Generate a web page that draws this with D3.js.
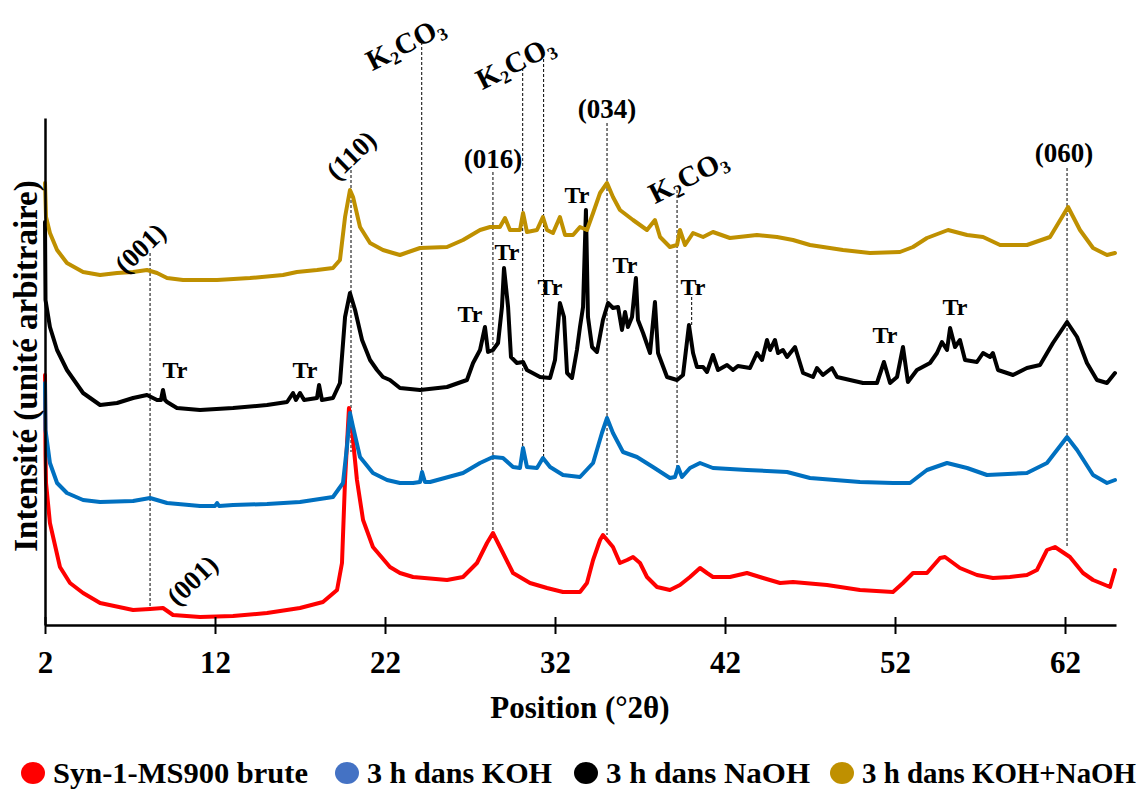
<!DOCTYPE html>
<html><head><meta charset="utf-8">
<script src="https://cdn.jsdelivr.net/npm/d3@7"></script>
<style>body{margin:0;background:#fff}</style>
</head><body>
<svg id="chart" width="1145" height="789"></svg>
<script>
// ---------- DATA (2θ in degrees, intensity in arbitrary units, curves already offset) ----------
const xTicks = [2, 12, 22, 32, 42, 52, 62];
const seriesNames = ["Syn-1-MS900 brute", "3 h dans KOH", "3 h dans NaOH", "3 h dans KOH+NaOH"];

const brute = [[2.00,250],[2.03,170],[2.06,142],[2.29,102],[2.88,58],[3.47,42],[4.24,32],[5.24,22],[7.18,15],[8.18,16],[8.94,17],[9.53,10],[11.12,8],[13.06,9],[15.06,12],[17.0,17],[18.35,23],[19.18,35],[19.47,62],[19.65,145],[19.88,217],[20.06,195],[20.35,145],[20.71,105],[21.29,78],[22.29,58],[22.88,52],[23.65,48],[25.65,45],[26.59,48],[27.41,62],[28.0,82],[28.35,92],[28.94,72],[29.53,52],[30.53,42],[31.53,37],[32.47,33],[33.47,33],[33.88,42],[34.24,65],[34.65,85],[34.82,90],[35.41,78],[35.82,62],[36.24,65],[36.59,68],[37.0,62],[37.41,48],[38.0,38],[38.76,35],[39.35,40],[39.94,48],[40.53,57],[40.94,52],[41.29,48],[42.29,48],[43.29,52],[44.24,47],[45.24,42],[46.0,43],[48.0,40],[49.94,35],[51.88,33],[52.47,42],[53.06,52],[53.88,52],[54.65,67],[54.94,68],[55.82,57],[56.82,50],[57.76,47],[58.76,48],[59.76,50],[60.35,55],[60.94,75],[61.41,78],[62.29,68],[63.06,52],[63.65,45],[64.65,38],[64.94,55]];

const koh = [[2.00,242],[2.03,195],[2.29,162],[2.71,142],[3.29,132],[4.24,125],[5.24,123],[7.18,124],[8.18,127],[9.18,122],[11.12,119],[12.0,119],[12.12,122],[12.24,119],[13.06,120],[15.06,121],[17.0,123],[18.94,128],[19.53,142],[19.76,178],[19.94,212],[20.12,198],[20.53,168],[21.29,152],[22.12,145],[22.88,142],[23.65,142],[24.06,143],[24.18,153],[24.35,143],[24.65,143],[26.59,152],[27.59,162],[28.35,168],[28.94,167],[29.53,158],[29.94,157],[30.12,177],[30.35,158],[30.94,157],[31.29,167],[31.71,158],[32.47,150],[33.47,148],[34.24,162],[34.76,192],[35.06,207],[35.41,192],[36.0,173],[36.82,168],[37.76,158],[38.76,147],[39.06,148],[39.24,158],[39.47,148],[39.94,157],[40.53,162],[41.29,157],[43.29,155],[45.65,153],[47.0,147],[49.94,143],[51.88,142],[52.88,142],[53.88,155],[55.06,162],[56.24,157],[57.41,150],[59.76,152],[60.94,162],[62.12,188],[62.71,175],[63.65,150],[64.47,142],[64.94,145]];

const naoh = [[2.00,403],[2.03,325],[2.29,298],[2.71,275],[3.29,255],[4.24,232],[5.24,220],[6.24,222],[7.18,227],[8.0,230],[8.59,225],[8.82,225],[8.94,235],[9.06,225],[9.18,223],[9.76,217],[11.12,215],[13.06,217],[15.06,220],[16.24,223],[16.59,232],[16.76,225],[17.0,232],[17.24,225],[18.0,227],[18.12,240],[18.29,225],[18.94,227],[19.35,242],[19.65,308],[19.94,332],[20.24,315],[20.65,285],[21.12,265],[21.53,255],[21.88,248],[22.29,245],[22.88,237],[24.06,235],[25.65,238],[26.82,245],[27.18,262],[27.59,275],[27.88,298],[28.06,273],[28.35,275],[28.65,282],[28.88,318],[29.0,357],[29.24,318],[29.41,268],[29.76,262],[30.12,263],[30.35,255],[31.12,248],[31.71,247],[32.0,265],[32.29,322],[32.53,308],[32.71,252],[33.0,247],[33.29,275],[33.47,298],[33.65,318],[33.82,415],[33.94,308],[34.18,278],[34.47,273],[34.82,305],[35.12,322],[35.41,317],[35.71,318],[35.94,295],[36.12,313],[36.29,298],[36.53,308],[36.76,347],[36.88,305],[37.18,292],[37.59,272],[37.88,323],[38.06,272],[38.59,248],[39.18,245],[39.53,250],[39.88,300],[40.12,272],[40.35,258],[40.71,258],[40.94,253],[41.29,270],[41.59,255],[42.12,260],[42.47,255],[42.76,259],[43.47,257],[43.88,272],[44.18,265],[44.47,285],[44.65,275],[44.94,285],[45.12,272],[45.41,275],[45.65,268],[46.12,278],[46.59,252],[47.18,248],[47.41,257],[47.76,250],[48.29,257],[48.59,248],[49.35,245],[50.12,242],[50.94,242],[51.35,263],[51.71,242],[52.12,248],[52.47,278],[52.76,243],[53.29,255],[54.06,262],[54.47,272],[54.76,283],[55.06,275],[55.24,297],[55.53,278],[55.82,285],[56.12,265],[56.82,263],[57.18,272],[57.59,268],[57.76,272],[58.06,255],[58.94,250],[59.76,257],[60.53,260],[61.29,282],[62.12,303],[62.71,288],[63.29,262],[63.88,245],[64.47,242],[64.94,252]];

const kohNaoh = [[2.00,442],[2.06,408],[2.29,392],[2.71,375],[3.29,362],[4.24,353],[5.24,350],[6.24,352],[7.18,353],[8.0,355],[8.59,352],[9.18,347],[10.12,345],[12.12,345],[14.06,347],[16.0,350],[16.82,353],[18.0,355],[18.94,357],[19.35,365],[19.65,408],[19.94,435],[20.12,428],[20.53,398],[21.12,382],[21.88,375],[22.47,372],[22.88,370],[24.06,377],[25.65,378],[26.59,385],[27.59,395],[28.18,398],[28.76,398],[29.06,407],[29.35,395],[29.94,395],[30.12,412],[30.35,393],[30.94,395],[31.29,408],[31.53,395],[31.88,392],[32.29,408],[32.59,390],[33.06,390],[33.47,398],[33.88,395],[34.24,412],[34.65,432],[35.06,442],[35.41,428],[35.82,415],[36.59,405],[37.41,395],[37.88,405],[38.18,388],[38.76,378],[39.18,380],[39.35,395],[39.65,380],[40.12,392],[40.71,388],[41.29,393],[42.29,387],[43.88,390],[45.06,388],[46.0,385],[47.0,380],[48.94,375],[50.53,372],[52.29,373],[53.06,378],[53.88,387],[55.12,395],[56.24,390],[57.18,388],[58.18,380],[59.76,380],[61.12,388],[62.18,418],[62.88,395],[63.65,377],[64.47,370],[64.94,372]];

// reference lines: [2θ, top intensity, bottom intensity]
const refLines = [[8.18,372,17],[20.0,455,173],[24.16,583,155],[30.1,557,175],[31.33,566,167],[28.35,453,92],[35.06,502,90],[39.18,435,158],[40.04,328,300],[62.12,457,77]];
// horizontal hkl labels: [text, 2θ, intensity(baseline)]
const hklLabels = [["(016)",28.35,457],["(034)",35.06,507],["(060)",61.94,463]];
// rotated hkl labels: [text, 2θ, intensity(center)]
const rotLabels = [["(001)",7.59,377],["(001)",10.65,45],["(110)",20.0,470]];
// K2CO3 labels: [2θ, intensity(center)]
const k2co3Labels = [[23.18,582],[29.65,563],[39.82,449]];
// Tr labels: [2θ, intensity(baseline)]
const trLabels = [[9.65,247],[17.29,247],[27.0,303],[29.18,365],[31.71,330],[33.29,422],[36.12,352],[40.12,330],[51.41,282],[55.53,310]];

// ---------- STYLE ----------
const lineColors = ["#ff0000", "#0070c0", "#000000", "#bf9000"];
const legendColors = ["#ff0000", "#4472c4", "#000000", "#bf9000"];
const FONT = "'Liberation Serif','Times New Roman',serif";

const svg = d3.select("#chart");
svg.append("rect").attr("width",1145).attr("height",789).attr("fill","#fff");

const x = d3.scaleLinear().domain([2, 65]).range([45, 1116]);
const y = d3.scaleLinear().domain([0, 507]).range([625, 118]);

// reference dashed lines (behind curves)
svg.append("g").selectAll("line").data(refLines).join("line")
  .attr("x1", d => x(d[0])).attr("x2", d => x(d[0]))
  .attr("y1", d => y(d[1])).attr("y2", d => y(d[2]))
  .attr("stroke", "#000").attr("stroke-width", 1).attr("stroke-dasharray", "3,2");

// curves
const line = d3.line().x(d => x(d[0])).y(d => y(d[1])).curve(d3.curveLinear);
const allSeries = [brute, koh, naoh, kohNaoh];
svg.append("g").selectAll("path").data(allSeries).join("path")
  .attr("d", line).attr("fill", "none")
  .attr("stroke", (d, i) => lineColors[i]).attr("stroke-width", 4)
  .attr("stroke-linejoin", "round").attr("stroke-linecap", "round");

// x axis
const xAxis = svg.append("g").attr("transform", `translate(0,${y(0)})`)
  .call(d3.axisBottom(x).tickValues(xTicks).tickFormat(d3.format("d")).tickSizeInner(9).tickSizeOuter(0));
xAxis.select(".domain").attr("stroke", "#000").attr("stroke-width", 2.5);
xAxis.selectAll(".tick line").attr("y1", -8).attr("stroke-width", 2);
xAxis.selectAll(".tick text").attr("y", 48).attr("dy", 0)
  .attr("font-family", FONT).attr("font-weight", "bold").attr("font-size", 31).attr("fill", "#000");

// y axis (no ticks)
const yAxis = svg.append("g").attr("transform", `translate(${x(2)},0)`)
  .call(d3.axisLeft(y).tickValues([]).tickSizeOuter(0));
yAxis.select(".domain").attr("stroke", "#000").attr("stroke-width", 2.5);

// axis titles
svg.append("text").attr("x", 580).attr("y", 718).attr("text-anchor", "middle")
  .attr("font-family", FONT).attr("font-weight", "bold").attr("font-size", 31)
  .text("Position (°2θ)");
svg.append("text").attr("transform", "translate(37,366) rotate(-90)").attr("text-anchor", "middle")
  .attr("font-family", FONT).attr("font-weight", "bold").attr("font-size", 33)
  .text("Intensité (unité arbitraire)");

// annotations
const ann = svg.append("g").attr("font-family", FONT).attr("font-weight", "bold").attr("fill", "#000");
ann.selectAll("text.tr").data(trLabels).join("text").attr("class", "tr")
  .attr("x", d => x(d[0])).attr("y", d => y(d[1])).attr("text-anchor", "middle")
  .attr("font-size", 24).text("Tr");
ann.selectAll("text.hkl").data(hklLabels).join("text").attr("class", "hkl")
  .attr("x", d => x(d[1])).attr("y", d => y(d[2])).attr("text-anchor", "middle")
  .attr("font-size", 27).text(d => d[0]);
ann.selectAll("text.rot").data(rotLabels).join("text").attr("class", "rot")
  .attr("transform", d => `translate(${x(d[1])},${y(d[2])}) rotate(-44)`)
  .attr("text-anchor", "middle").attr("dy", "0.35em")
  .attr("font-size", 27).text(d => d[0]);
const kt = ann.selectAll("text.k").data(k2co3Labels).join("text").attr("class", "k")
  .attr("transform", d => `translate(${x(d[0])},${y(d[1])}) rotate(-27)`)
  .attr("text-anchor", "middle").attr("dy", "0.35em").attr("font-size", 29);
kt.append("tspan").text("K");
kt.append("tspan").attr("font-size", 18).attr("dy", 5).text("2");
kt.append("tspan").attr("dy", -5).text("CO");
kt.append("tspan").attr("font-size", 18).attr("dy", 5).text("3");

// legend
const legendX = [33, 347, 586, 842];
const legendW = [255, 185, 204, 274];
const lg = svg.append("g");
const items = lg.selectAll("g").data(seriesNames).join("g")
  .attr("transform", (d, i) => `translate(${legendX[i]},773)`);
items.append("ellipse").attr("rx", 12).attr("ry", 11).attr("fill", (d, i) => legendColors[i]);
items.append("text").attr("x", 20).attr("y", 10)
  .attr("font-family", FONT).attr("font-weight", "bold").attr("font-size", 29)
  .attr("textLength", (d, i) => legendW[i]).attr("lengthAdjust", "spacingAndGlyphs")
  .text(d => d);
</script>
</body></html>
